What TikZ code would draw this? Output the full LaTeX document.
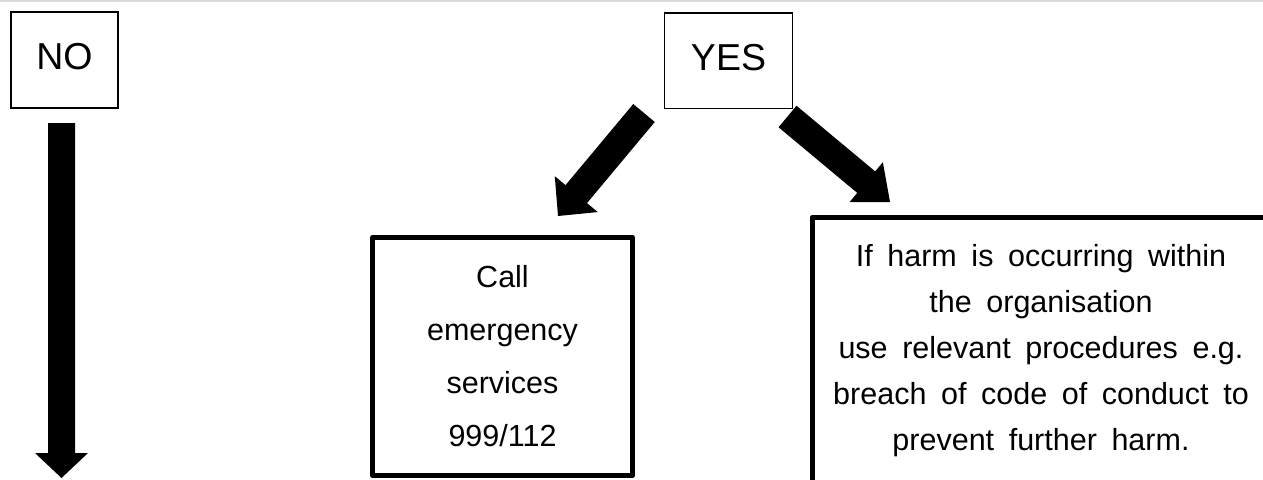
\documentclass[tikz,border=0pt]{standalone}
\usepackage{fontspec}
\setmainfont{Liberation Sans}
\usetikzlibrary{calc}
\definecolor{topline}{RGB}{214,222,212}
\newcommand\harmfont{\fontsize{30.5}{46}\selectfont\spaceskip 14.6pt\relax}
\newcommand\callfont{\fontsize{30.5}{53}\selectfont}
% #1 tail coordinate, #2 tip coordinate, #3 half shaft width, #4 half head width, #5 head length
\newcommand\fatarrow[5]{%
  \coordinate (#1-b) at ($(#2)!#5!(#1)$);
  \fill[black] ($(#1)!#3!90:(#2)$) -- ($(#1-b)!#3!90:(#2)$) -- ($(#1-b)!#4!90:(#2)$)
    -- (#2) -- ($(#1-b)!#4!-90:(#2)$) -- ($(#1-b)!#3!-90:(#2)$) -- ($(#1)!#3!-90:(#2)$) -- cycle;
}
\begin{document}
\begin{tikzpicture}[x=1pt,y=-1pt,
  thinbox/.style={draw,line width=1.5pt,inner sep=0pt,
    font=\fontsize{37.5}{45}\selectfont,text height=27pt,text depth=7.5pt},
  thickbox/.style={draw,line width=5pt,line join=round,inner sep=0pt,align=center}]
\useasboundingbox (0,0) rectangle (1263,479);
\clip (0,0) rectangle (1263,479);
\fill[topline] (0,0) rectangle (1263,2);
\node[thinbox,minimum width=107pt,minimum height=96pt] (no) at (64.5,60) {NO};
\node[thinbox,minimum width=128pt,minimum height=95.5pt] (yes) at (728.5,60.75) {YES};
\node[thickbox,minimum width=260pt,minimum height=238pt,font=\callfont] (call) at (502.5,356.5)
  {Call\\emergency\\services\\999/112};
\node[thickbox,minimum width=458pt,minimum height=266pt,font=\harmfont] (harm) at (1041,350.5)
  {If harm is occurring within\\the organisation\\use relevant procedures e.g.\\breach of code of conduct to\\prevent further harm.};
\coordinate (noT) at (61.5,123);
\coordinate (noP) at (61.5,478);
\coordinate (ylT) at (644,113);
\coordinate (ylP) at (558,216);
\coordinate (yrT) at (787.5,116.5);
\coordinate (yrP) at (890,202);
\fatarrow{noT}{noP}{13.5pt}{26.5pt}{25pt}
\fatarrow{ylT}{ylP}{14pt}{28pt}{28.5pt}
\fatarrow{yrT}{yrP}{14pt}{26pt}{31pt}
\end{tikzpicture}
\end{document}
